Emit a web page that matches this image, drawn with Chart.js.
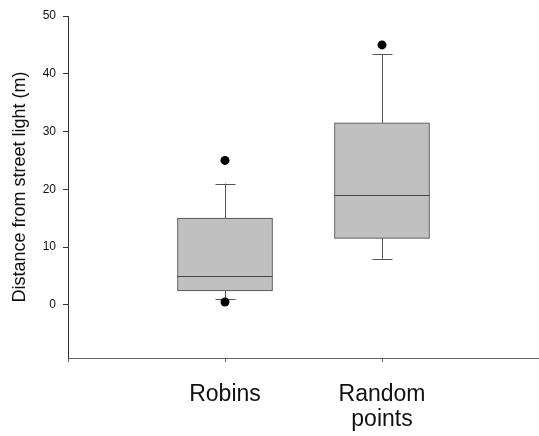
<!DOCTYPE html>
<html lang="en">
<head>
    <meta charset="UTF-8">
    <title>Distance from street light</title>
    <script src="https://cdn.jsdelivr.net/npm/chart.js"></script>
    <style>
        body { margin: 0; background: #fff; }
        canvas { display: block; }
    </style>
</head>
<body>
    <canvas id="boxChart" width="539" height="436"></canvas>

    <script>
        // box plot values
        const categories = ['Robins', ['Random', 'points']];
        const positions = [1, 2];
        const q1 = [2.4, 11.5];
        const median = [5, 19];
        const q3 = [15, 31.5];
        const whiskerLow = [1, 8];
        const whiskerHigh = [21, 43.4];
        const outliers = [[25, 0.5], [45]];
        const yTicks = [0, 10, 20, 30, 40, 50];
        const xTicks = [0, 1, 2];

        const font = 'Liberation Sans, Arial, sans-serif';

        const boxData = positions.map((p, i) => ({ x: p, y: [q1[i], q3[i]] }));
        const outlierData = [];
        positions.forEach((p, i) => outliers[i].forEach(v => outlierData.push({ x: p, y: v })));

        // whiskers, caps and medians drawn from the scales
        const boxExtras = {
            id: 'boxExtras',
            beforeDatasetsDraw(chart) {
                const { ctx, scales: { x, y } } = chart;
                ctx.save();
                ctx.strokeStyle = '#555';
                ctx.lineWidth = 1;
                positions.forEach((p, i) => {
                    const cx = Math.round(x.getPixelForValue(p)) + 0.5;
                    const lo = y.getPixelForValue(whiskerLow[i]);
                    const hi = y.getPixelForValue(whiskerHigh[i]);
                    ctx.beginPath();
                    ctx.moveTo(cx, y.getPixelForValue(q1[i]));
                    ctx.lineTo(cx, lo);
                    ctx.moveTo(cx, y.getPixelForValue(q3[i]));
                    ctx.lineTo(cx, hi);
                    ctx.moveTo(cx - 10, Math.round(lo) + 0.5);
                    ctx.lineTo(cx + 10, Math.round(lo) + 0.5);
                    ctx.moveTo(cx - 10, Math.round(hi) + 0.5);
                    ctx.lineTo(cx + 10, Math.round(hi) + 0.5);
                    ctx.stroke();
                });
                ctx.restore();
            },
            afterDatasetDraw(chart, args) {
                if (args.index !== 1) return;
                const { ctx, scales: { x, y } } = chart;
                ctx.save();
                ctx.strokeStyle = '#444';
                ctx.lineWidth = 1;
                positions.forEach((p, i) => {
                    const cx = x.getPixelForValue(p);
                    const my = Math.round(y.getPixelForValue(median[i])) + 0.5;
                    ctx.beginPath();
                    ctx.moveTo(cx - 47.5, my);
                    ctx.lineTo(cx + 47.5, my);
                    ctx.stroke();
                });
                ctx.restore();
            }
        };

        new Chart(document.getElementById('boxChart'), {
            data: {
                datasets: [{
                    type: 'scatter',
                    data: outlierData,
                    pointRadius: 4.5,
                    pointHoverRadius: 4.5,
                    backgroundColor: '#000',
                    borderColor: '#000',
                    borderWidth: 0,
                    order: 0
                }, {
                    type: 'bar',
                    data: boxData,
                    backgroundColor: '#c0c0c0',
                    borderColor: '#444',
                    borderWidth: 1,
                    borderSkipped: false,
                    barThickness: 95,
                    order: 1
                }]
            },
            options: {
                responsive: false,
                animation: false,
                layout: { autoPadding: false, padding: { top: 16, right: 0 } },
                plugins: { legend: { display: false }, tooltip: { enabled: false } },
                scales: {
                    x: {
                        type: 'linear',
                        min: 0,
                        max: 3,
                        offset: false,
                        afterBuildTicks: s => { s.ticks = xTicks.map(v => ({ value: v })); },
                        afterFit: s => { s.height = 78; },
                        border: { color: '#666', width: 1 },
                        grid: { offset: false, drawOnChartArea: false, tickLength: 4, color: '#666' },
                        ticks: {
                            color: '#111',
                            padding: 21,
                            maxRotation: 0,
                            autoSkip: false,
                            font: { family: font, size: 23, lineHeight: 1.05 },
                            callback: v => (v >= 1 ? categories[v - 1] : '')
                        }
                    },
                    y: {
                        min: -9.2,
                        max: 50,
                        afterBuildTicks: s => { s.ticks = yTicks.map(v => ({ value: v })); },
                        afterFit: s => { s.width = 68; },
                        border: { color: '#333', width: 1 },
                        grid: { drawOnChartArea: false, tickLength: 5, color: '#333' },
                        ticks: {
                            color: '#111',
                            padding: 7,
                            font: { family: font, size: 12 }
                        },
                        title: {
                            display: true,
                            text: 'Distance from street light (m)',
                            color: '#111',
                            padding: { top: 9, bottom: 0 },
                            font: { family: font, size: 18 }
                        }
                    }
                }
            },
            plugins: [boxExtras]
        });
    </script>
</body>
</html>
